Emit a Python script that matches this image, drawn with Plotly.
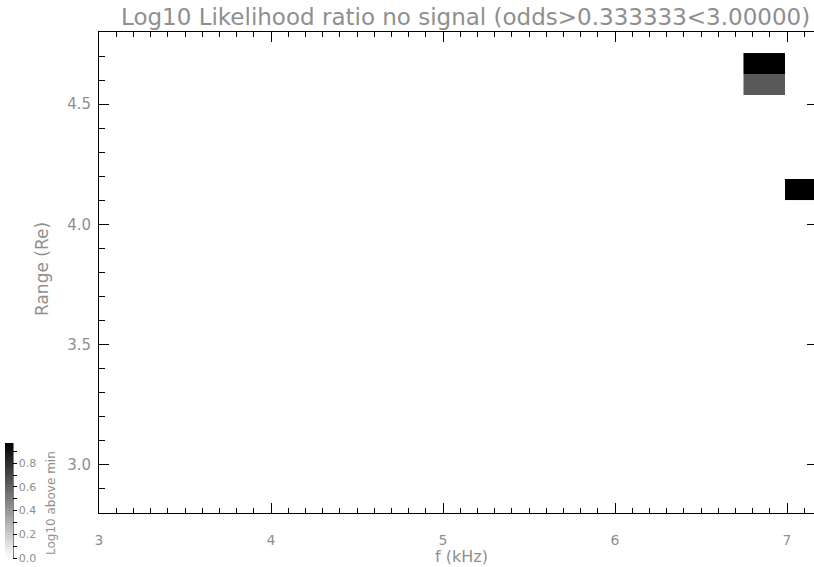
import plotly.graph_objects as go

# ---- data ----
freq_khz = [6.867, 7.107]                      # cell centres (kHz)
range_re = [4.146, 4.233, 4.320, 4.407, 4.494, 4.582, 4.669]  # cell centres (Re)
# z[row for range][col for freq]; None = no data
loglike = [
    [None, 0.97],
    [None, None],
    [None, None],
    [None, None],
    [None, None],
    [0.63, None],
    [0.97, None],
]
zmin, zmax = 0.0, 0.97
cb_tickvals = [0.0, 0.1, 0.2, 0.3, 0.4, 0.5, 0.6, 0.7, 0.8, 0.9]
cb_ticktext = ["0.0", "", "0.2", "", "0.4", "", "0.6", "", "0.8", ""]
x_range = [3.0, 7.157]
y_range = [2.8, 4.8]

W, H = 814, 567
L, R, T, B = 99, 0, 32, 54
pw, ph = W - L - R, H - T - B

def px(x):
    return (x - L) / pw

def py(y):
    return (H - B - y) / ph

grey = "#8f8f8f"
fam = "DejaVu Sans"

fig = go.Figure()
fig.add_trace(go.Heatmap(
    x=freq_khz, y=range_re, z=loglike,
    zmin=zmin, zmax=zmax,
    colorscale=[[0, "#ffffff"], [1, "#000000"]],
    hoverongaps=False,
    colorbar=dict(
        x=px(5), xanchor="left", xref="paper",
        y=py(558), yanchor="bottom", yref="paper",
        lenmode="pixels", len=115, thickness=8,
        xpad=0, ypad=0, outlinewidth=0,
        tickvals=cb_tickvals, ticktext=cb_ticktext,
        ticks="outside", ticklen=4, tickcolor="black", tickwidth=1,
        tickfont=dict(family=fam, size=11, color=grey),
    ),
))
fig.add_trace(go.Scatter(x=[], y=[], yaxis="y2", showlegend=False))

fig.update_layout(
    width=W, height=H,
    margin=dict(l=L, r=R, t=T, b=B, pad=0),
    paper_bgcolor="white", plot_bgcolor="white",
    showlegend=False,
    xaxis=dict(
        range=x_range, showgrid=False, zeroline=False,
        showline=True, linecolor="black", linewidth=1, mirror="ticks",
        ticks="inside", ticklen=10, tickcolor="black", tickwidth=1,
        dtick=1, tick0=3,
        minor=dict(ticks="inside", ticklen=5, dtick=0.1, tick0=3, tickcolor="black", showgrid=False),
        tickfont=dict(family=fam, size=14, color=grey),
        ticklabelstandoff=14,
    ),
    yaxis=dict(
        range=y_range, showgrid=False, zeroline=False,
        showline=True, linecolor="black", linewidth=1,
        ticks="inside", ticklen=10, tickcolor="black", tickwidth=1,
        dtick=0.5, tick0=3.0, tickformat=".1f",
        minor=dict(ticks="inside", ticklen=6, dtick=0.1, tick0=3.0, tickcolor="black", showgrid=False),
        tickfont=dict(family=fam, size=15, color=grey),
        ticklabelstandoff=4,
    ),
    yaxis2=dict(
        range=y_range, overlaying="y", side="right", showgrid=False,
        zeroline=False, showline=False, showticklabels=False,
        ticks="inside", ticklen=7, tickcolor="black", tickwidth=1,
        dtick=0.5, tick0=3.0,
    ),
    annotations=[
        dict(text="Log10 Likelihood ratio no signal (odds>0.333333<3.00000)",
             xref="paper", yref="paper", x=px(465), y=py(17),
             xanchor="center", yanchor="middle", showarrow=False,
             font=dict(family=fam, size=23, color=grey)),
        dict(text="f (kHz)", xref="paper", yref="paper", x=px(461), y=py(556),
             xanchor="center", yanchor="middle", showarrow=False,
             font=dict(family=fam, size=16, color=grey)),
        dict(text="Range (Re)", xref="paper", yref="paper", x=px(42), y=py(269),
             xanchor="center", yanchor="middle", showarrow=False, textangle=-90,
             font=dict(family=fam, size=17, color=grey)),
        dict(text="Log10 above min", xref="paper", yref="paper", x=px(51), y=py(503),
             xanchor="center", yanchor="middle", showarrow=False, textangle=-90,
             font=dict(family=fam, size=12, color=grey)),
    ],
    shapes=[
        dict(type="line", xref="paper", yref="paper",
             x0=px(13), x1=px(13), y0=py(558), y1=py(443),
             line=dict(color="black", width=1)),
    ],
)

fig.write_html("out.html")
